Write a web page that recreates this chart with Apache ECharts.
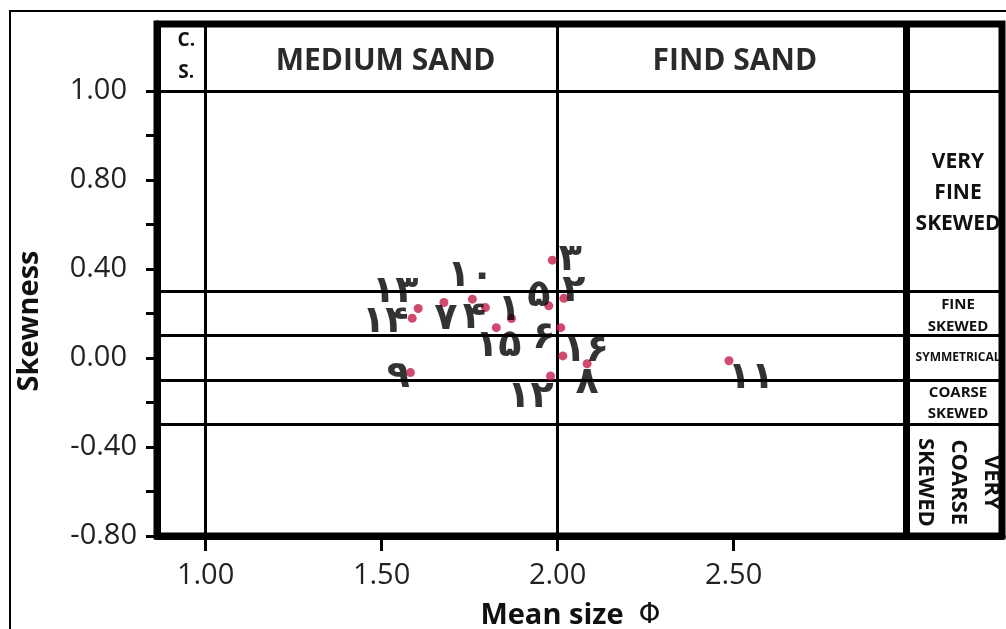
<!DOCTYPE html>
<html><head><meta charset="utf-8">
<script src="https://cdn.jsdelivr.net/npm/echarts@6/dist/echarts.min.js"></script>
<style>html,body{margin:0;padding:0;background:#fff}#c{width:1006px;height:629px}</style>
</head><body><div id="c"></div>
<script>
// ---- data ----
const sampleLabels = ['۳','۲','۵','۱۰','۷','۴','۱۳','۱۴','۱','۱۵','۶','۱۶','۸','۱۲','۹','۱۱'];
const meanSize = [1.985,2.018,1.975,1.758,1.677,1.795,1.604,1.587,1.869,1.826,2.009,2.015,2.084,1.980,1.582,2.487];
const skewness = [0.439,0.268,0.234,0.264,0.249,0.226,0.222,0.178,0.177,0.136,0.136,0.009,-0.026,-0.081,-0.066,-0.013];
const xTickValues = [1.0,1.5,2.0,2.5];
const yTickValues = [-0.8,-0.4,0,0.4,0.8,1.2];
const yTickLabels = ['-0.80','-0.40','0.00','0.40','0.80','1.00'];
const yMinorTickValues = [-0.8,-0.6,-0.4,-0.2,0,0.2,0.4,0.6,0.8,1.0,1.2];
const sizeClassBounds = [1.0, 2.0];
const panelBound = 2.99;
const skewClassBounds = [0.3, 0.1, -0.1, -0.3];
const headerBound = 1.2;

// ---- label placement (styling) ----
const labelOffsets = [[18,0],[10,-7],[-10,-10],[-2,-23],[2,17],[-11,11],[-23,-16],[-27,4],[-2,-8],[2,18],[-17,10],[23,-5],[0,19],[-20,21],[-12,5],[22,17]];

const chart = echarts.init(document.getElementById('c'));
const FONT = 'Open Sans';
const X_MIN = 0.862, X_MAX = 3.282, Y_MIN = -0.8, Y_MAX = 1.5;
const TICK_DEPTH = 0.068; // tick length below the axis, in skewness units

const points = meanSize.map((x,i)=>({
  value:[x, skewness[i]],
  label:{formatter: sampleLabels[i], offset: labelOffsets[i]}
}));

const lineItems = [];
sizeClassBounds.forEach(v=>lineItems.push({xAxis:v, lineStyle:{width:3}}));
lineItems.push({xAxis:panelBound, lineStyle:{width:7}});
lineItems.push({yAxis:headerBound, lineStyle:{width:3}});
skewClassBounds.forEach(v=>lineItems.push({yAxis:v, lineStyle:{width:3}}));
// x-axis tick marks as segments hanging below the axis
xTickValues.forEach(v=>lineItems.push([{coord:[v, Y_MIN], lineStyle:{width:3}}, {coord:[v, Y_MIN - TICK_DEPTH]}]));

chart.setOption({
  animation:false,
  backgroundColor:'#fff',
  grid:{left:157, top:24, width:845, height:512, outerBoundsMode:'none', containLabel:false,
        show:true, borderColor:'#000', borderWidth:7},
  xAxis:{
    type:'value', min:X_MIN, max:X_MIN + 845/352, position:'bottom',
    axisLine:{show:true, onZero:false, lineStyle:{color:'#000', width:7}},
    splitLine:{show:false},
    axisTick:{show:true, customValues:xTickValues, length:15, lineStyle:{color:'#000', width:3}},
    axisLabel:{customValues:xTickValues, formatter:v=>v.toFixed(2), margin:25, fontFamily:FONT, fontSize:29, color:'#222'},
    name:'Mean size  {p|Φ}', nameLocation:'middle', nameGap:65,
    nameTextStyle:{fontFamily:FONT, fontSize:29, fontWeight:'bold', color:'#111', padding:[0,18,0,0],
      rich:{p:{fontFamily:'DejaVu Sans', fontSize:28, fontWeight:'normal', color:'#111'}}}
  },
  yAxis:{
    type:'value', min:Y_MIN, max:Y_MAX, position:'left',
    axisLine:{show:true, onZero:false, lineStyle:{color:'#000', width:7}},
    splitLine:{show:false},
    axisTick:{show:true, customValues:yMinorTickValues, length:11, lineStyle:{color:'#000', width:3}},
    axisLabel:{customValues:yTickValues, margin:20,
      formatter:v=>{const i=yTickValues.findIndex(t=>Math.abs(t-v)<1e-6); const s=yTickLabels[i]; return v<0?'{n|'+s+'}':'{p|'+s+'}';},
      rich:{p:{fontFamily:FONT, fontSize:29, color:'#222', padding:[0,10,0,0]}, n:{fontFamily:FONT, fontSize:29, color:'#222'}}},
    name:'Skewness', nameLocation:'middle', nameGap:113, nameRotate:90,
    nameTextStyle:{fontFamily:FONT, fontSize:29, fontWeight:'bold', color:'#111', padding:[0,0,0,-82]}
  },
  series:[
    {type:'scatter', data:[], silent:true, clip:false,
     markLine:{silent:true, symbol:['none','none'], label:{show:false}, lineStyle:{color:'#000', type:'solid'}, data:lineItems}},
    {type:'scatter', data:points, symbolSize:9, itemStyle:{color:'#c41d4b'}, z:5,
     label:{show:true, position:'inside', fontFamily:'DejaVu Sans', fontWeight:'bold', fontSize:38, color:'#000'}}
  ]
});

function px(x,y){return chart.convertToPixel({gridIndex:0},[x,y]);}
const gridTop = px(X_MIN,Y_MAX)[1];
const hdrY = (px(X_MIN,headerBound)[1] + gridTop)/2;
const p0 = px(X_MIN,Y_MIN)[0], p1 = px(sizeClassBounds[0],Y_MIN)[0], p2 = px(sizeClassBounds[1],Y_MIN)[0], p3 = px(panelBound,Y_MIN)[0];
const panelX = (p3 + 1006)/2 + 2;
function t(x,y,text,size,extra){return {type:'text', x:x, y:y, z:10, style:Object.assign({text:text, fill:'#111', font:'bold '+size+'px "'+FONT+'"', align:'center', verticalAlign:'middle'}, extra||{})};}
function yc(a,b){return (px(X_MIN,a)[1]+px(X_MIN,b)[1])/2;}
const g = [
  {type:'polyline', shape:{points:[[10,640],[10,11],[1010,11]]}, style:{fill:null, stroke:'#000', lineWidth:2}, z:1},
  t((p0+p1)/2+5, 41, 'C.', 19),
  t((p0+p1)/2+5, 73, 'S.', 19),
  t((p1+p2)/2+4, hdrY+4, 'MEDIUM SAND', 30, {fill:'#2a2a2a'}),
  t((p2+p3)/2+3, hdrY+4, 'FIND SAND', 30, {fill:'#2a2a2a'}),
  t(panelX, yc(headerBound, skewClassBounds[0])+2, 'VERY\nFINE\nSKEWED', 21, {lineHeight:31}),
  t(panelX, yc(skewClassBounds[0], skewClassBounds[1])+2, 'FINE\nSKEWED', 15, {lineHeight:22}),
  t(panelX, yc(skewClassBounds[1], skewClassBounds[2]), 'SYMMETRICAL', 12),
  t(panelX, yc(skewClassBounds[2], skewClassBounds[3])+1, 'COARSE\nSKEWED', 15, {lineHeight:21}),
  Object.assign(t(panelX, yc(skewClassBounds[3], Y_MIN)+2, 'VERY\nCOARSE\nSKEWED', 22, {lineHeight:33}), {rotation:-Math.PI/2})
];
chart.setOption({graphic:{elements:g}});
</script></body></html>
